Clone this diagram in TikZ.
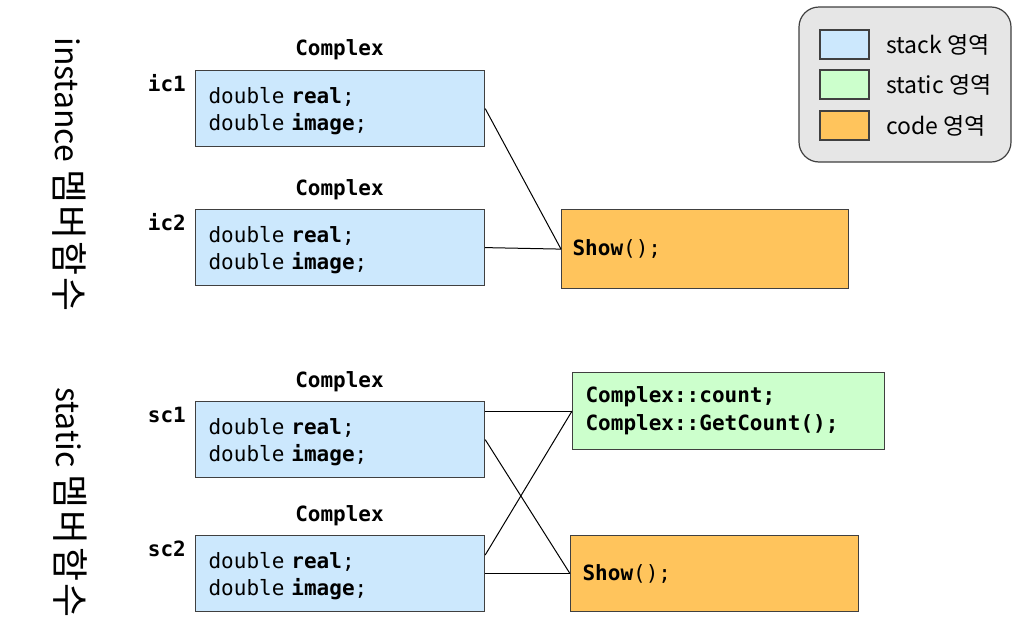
\documentclass[tikz,border=0pt]{standalone}
\usepackage{fontspec}
\setmonofont{DejaVu Sans Mono}
\newfontfamily\krfont{Noto Sans CJK KR}
\newfontfamily\krspaced[LetterSpace=6]{Noto Sans CJK KR}
\usetikzlibrary{calc}
\definecolor{stackc}{RGB}{204,232,253}
\definecolor{staticc}{RGB}{204,255,204}
\definecolor{codec}{RGB}{255,196,92}
\definecolor{legendc}{RGB}{230,230,230}
\definecolor{boxline}{RGB}{64,64,64}
\newcommand{\krbig}[1]{{\krspaced\fontsize{37}{40}\selectfont #1}}
\newcommand{\lift}{\rule{0pt}{22pt}}
\begin{document}
\begin{tikzpicture}[x=1pt,y=-1pt,
  box/.style={draw=boxline, line width=1.2pt, inner ysep=0pt, align=left, anchor=north west,
    font=\ttfamily\fontsize{21}{27}\selectfont},
  mem/.style={box, fill=stackc, minimum width=289pt, minimum height=76pt, text width=263pt, inner xsep=13pt},
  lbl/.style={font=\ttfamily\bfseries\fontsize{21}{25}\selectfont, inner sep=0pt},
  conn/.style={draw=black, line width=1pt},
  swatch/.style={draw=boxline, line width=1.2pt, minimum width=49pt, minimum height=29pt, inner sep=0pt},
  legtxt/.style={font=\krfont\fontsize{23}{26}\selectfont, anchor=west, inner sep=0pt},
  side/.style={font=\krfont\fontsize{32}{36}\selectfont, rotate=-90, anchor=west, inner sep=0pt}]
\useasboundingbox (0,0) rectangle (1028,635);
\fill[white] (0,0) rectangle (1028,635);

% side titles
\node[side] (t1) at (69,37) {instance \krbig{멤버함수}};
\node[side] (t2) at (70,387) {static \krbig{멤버함수}};

% instance part
\node[lbl] (c1) at (339.5,50) {Complex};
\node[lbl, anchor=base east] (n1) at (186,91) {ic1};
\node[mem] (ic1) at (195,70) {\lift double \textbf{real};\\double \textbf{image};};

\node[lbl] (c2) at (339.5,190) {Complex};
\node[lbl, anchor=base east] (n2) at (186,230) {ic2};
\node[mem] (ic2) at (195,209) {\lift double \textbf{real};\\double \textbf{image};};

\node[box, fill=codec, minimum width=287pt, minimum height=79pt, text width=265pt, inner xsep=11pt] (show1) at (561,209) {\textbf{Show}();};

% static part
\node[lbl] (c3) at (339.5,382) {Complex};
\node[lbl, anchor=base east] (n3) at (186,422) {sc1};
\node[mem] (sc1) at (195,401) {\lift double \textbf{real};\\double \textbf{image};};

\node[lbl] (c4) at (339.5,516) {Complex};
\node[lbl, anchor=base east] (n4) at (186,556) {sc2};
\node[mem] (sc2) at (195,535) {\lift double \textbf{real};\\double \textbf{image};};

\node[box, fill=staticc, minimum width=312pt, minimum height=77pt, text width=286pt, inner xsep=13pt,
  font=\ttfamily\bfseries\fontsize{21}{28}\selectfont] (stat) at (572,372) {Complex::count;\\Complex::GetCount();};

\node[box, fill=codec, minimum width=288pt, minimum height=76pt, text width=264pt, inner xsep=12pt] (show2) at (570,535) {\textbf{Show}();};

% connectors
\draw[conn] (ic1.east) -- (show1.west);
\draw[conn] (ic2.east) -- (show1.west);
\draw[conn] (sc1.east |- stat.west) -- (stat.west);
\draw[conn] (sc1.east) -- (show2.west);
\draw[conn] ([yshift=-20pt]sc2.north east) -- (stat.west);
\draw[conn] (sc2.east) -- (show2.west);

% legend
\node[draw=boxline, line width=1.2pt, fill=legendc, rounded corners=20pt, minimum width=212pt, minimum height=155pt, inner sep=0pt] (legend) at (905,84.5) {};
\node[swatch, fill=stackc] (s1) at (844.5,44.5) {};
\node[swatch, fill=staticc] (s2) at (844.5,84.5) {};
\node[swatch, fill=codec] (s3) at (844.5,125.5) {};
\node[legtxt] (l1) at (886,44.5) {stack 영역};
\node[legtxt] (l2) at (886,85) {static 영역};
\node[legtxt] (l3) at (886,126) {code 영역};
\end{tikzpicture}
\end{document}
